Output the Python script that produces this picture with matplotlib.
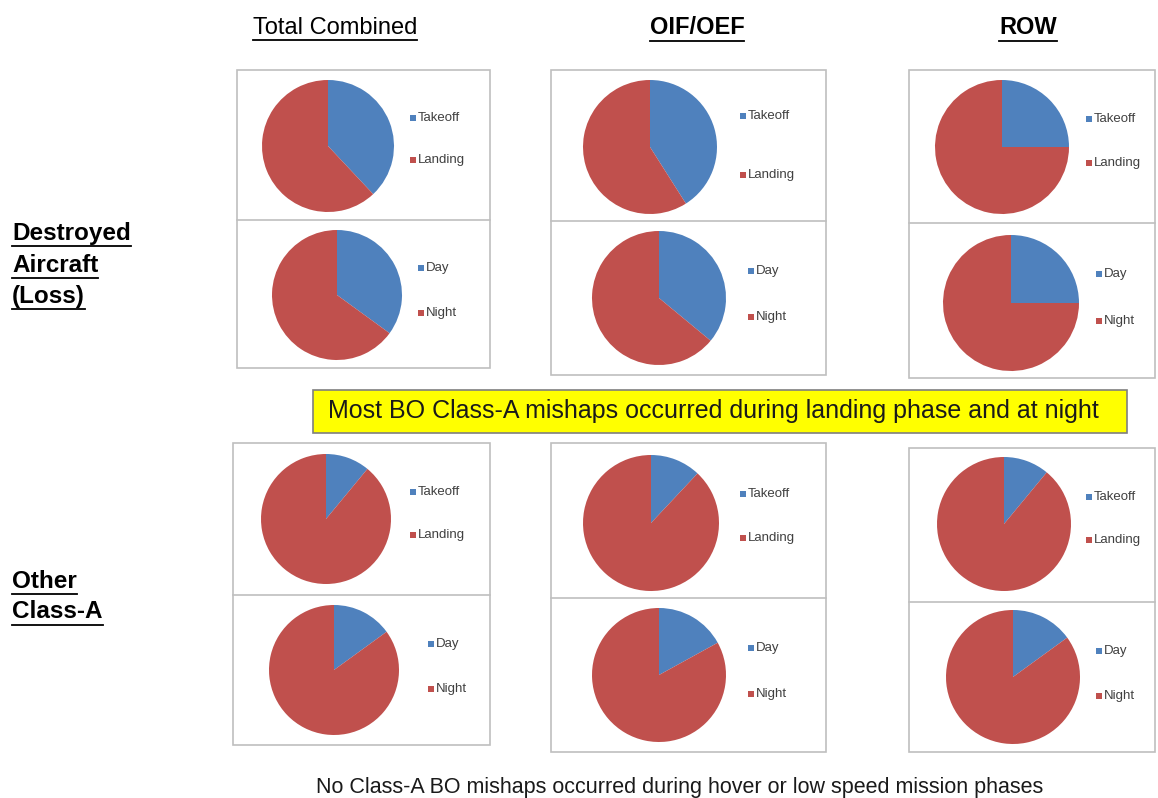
import matplotlib
matplotlib.use("Agg")
import matplotlib.pyplot as plt
from matplotlib.patches import Rectangle
from matplotlib.lines import Line2D

plt.rcParams['font.family'] = ['Liberation Sans', 'DejaVu Sans']

W, H = 1158, 798

# ---- data (fractions) ----
columns = ["Total Combined", "OIF/OEF", "ROW"]
rows = ["Destroyed\nAircraft\n(Loss)", "Other\nClass-A"]
phase_labels = ["Takeoff", "Landing"]
time_labels = ["Day", "Night"]

destroyed_phase = [[0.38, 0.62], [0.41, 0.59], [0.25, 0.75]]
destroyed_time = [[0.35, 0.65], [0.36, 0.64], [0.25, 0.75]]
other_phase = [[0.11, 0.89], [0.12, 0.88], [0.11, 0.89]]
other_time = [[0.15, 0.85], [0.17, 0.83], [0.15, 0.85]]

colors = ["#4F81BD", "#C0504D"]

fig = plt.figure(figsize=(W / 100, H / 100), dpi=100)


def fx(x):
    return x / W


def fy(y):
    return 1 - y / H


def box(x0, y0, x1, y1, ydiv):
    fig.patches.append(Rectangle((fx(x0), fy(y1)), fx(x1 - x0), (y1 - y0) / H,
                                 transform=fig.transFigure, fill=False,
                                 edgecolor="#BFBFBF", lw=1.2))
    fig.lines.append(Line2D([fx(x0), fx(x1)], [fy(ydiv), fy(ydiv)],
                            transform=fig.transFigure, color="#BFBFBF", lw=1.2))


def pie(cx, cy, r, vals, labels, lx, ly1, ly2):
    ax = fig.add_axes([fx(cx - r), fy(cy + r), 2 * r / W, 2 * r / H])
    ax.pie(vals, colors=colors, startangle=90, counterclock=False,
           wedgeprops=dict(linewidth=0))
    ax.set_xlim(-1, 1)
    ax.set_ylim(-1, 1)
    ax.set_aspect("equal")
    for lab, yy, c in zip(labels, [ly1, ly2], colors):
        fig.patches.append(Rectangle((fx(lx), fy(yy + 3)), 6 / W, 6 / H,
                                     transform=fig.transFigure, color=c, lw=0))
        fig.text(fx(lx + 8), fy(yy), lab, fontsize=9.5, color="#404040",
                 va="center", ha="left")


# boxes
box(237, 70, 490, 368, 220)
box(551, 70, 826, 375, 221)
box(909, 70, 1155, 378, 223)
box(233, 443, 490, 745, 595)
box(551, 443, 826, 752, 598)
box(909, 448, 1155, 752, 602)

# pie layout: (cx, cy, r, legend x, legend y1, legend y2)
top_phase = [(328, 146, 66, 410, 118, 160), (650, 147, 67, 740, 116, 175),
             (1002, 147, 67, 1086, 119, 163)]
top_time = [(337, 295, 65, 418, 268, 313), (659, 298, 67, 748, 271, 317),
            (1011, 303, 68, 1096, 274, 321)]
bot_phase = [(326, 519, 65, 410, 492, 535), (651, 523, 68, 740, 494, 538),
             (1004, 524, 67, 1086, 497, 540)]
bot_time = [(334, 670, 65, 428, 644, 689), (659, 675, 67, 748, 648, 694),
            (1013, 677, 67, 1096, 651, 696)]

for i in range(3):
    cx, cy, r, lx, l1, l2 = top_phase[i]
    pie(cx, cy, r, destroyed_phase[i], phase_labels, lx, l1, l2)
    cx, cy, r, lx, l1, l2 = top_time[i]
    pie(cx, cy, r, destroyed_time[i], time_labels, lx, l1, l2)
    cx, cy, r, lx, l1, l2 = bot_phase[i]
    pie(cx, cy, r, other_phase[i], phase_labels, lx, l1, l2)
    cx, cy, r, lx, l1, l2 = bot_time[i]
    pie(cx, cy, r, other_time[i], time_labels, lx, l1, l2)

# headers and row labels (underlined afterwards)
underlined = []
header_x = [335, 697, 1028]
header_w = ["normal", "bold", "bold"]
for name, x, w in zip(columns, header_x, header_w):
    underlined.append(fig.text(fx(x), fy(28), name, fontsize=17, fontweight=w,
                               ha="center", va="center"))

row_y = [[234, 265, 296], [581, 612]]
for name, ys in zip(rows, row_y):
    for line, y in zip(name.split("\n"), ys):
        underlined.append(fig.text(fx(12), fy(y), line, fontsize=17.5,
                                   fontweight="bold", ha="left", va="center"))

# yellow callout
fig.patches.append(Rectangle((fx(313), fy(433)), fx(1127 - 313), 43 / H,
                             transform=fig.transFigure, facecolor="#FFFF00",
                             edgecolor="#7F7F7F", lw=1.2))
fig.text(fx(713), fy(411), "Most BO Class-A mishaps occurred during landing phase and at night",
         fontsize=18, ha="center", va="center", color="#1a1a1a")

fig.text(fx(680), fy(788), "No Class-A BO mishaps occurred during hover or low speed mission phases",
         fontsize=15.5, ha="center", va="center", color="#1a1a1a")

fig.canvas.draw()
renderer = fig.canvas.get_renderer()
for t in underlined:
    bb = t.get_window_extent(renderer)
    y = bb.y0 - 1
    fig.lines.append(Line2D([bb.x0 / W, bb.x1 / W], [y / H, y / H],
                            transform=fig.transFigure, color="black", lw=1.3))

fig.savefig("out.png", dpi=100)
